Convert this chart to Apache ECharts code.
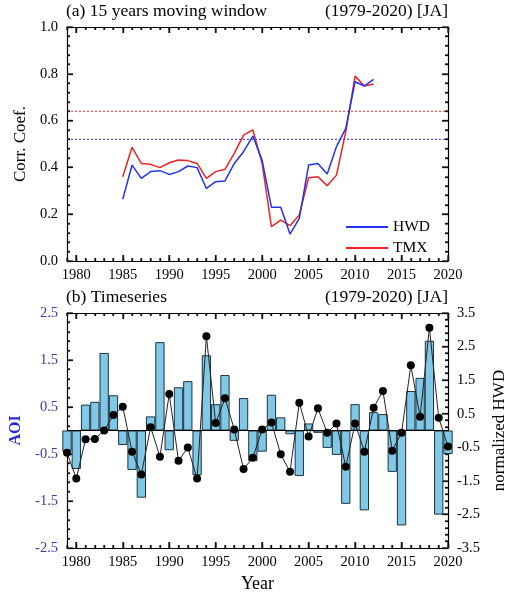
<!DOCTYPE html>
<html><head><meta charset="utf-8">
<script src="https://cdn.jsdelivr.net/npm/echarts@6/dist/echarts.min.js"></script>
<style>html,body{margin:0;padding:0;background:#fff}#c{width:509px;height:600px}</style>
</head><body><div id="c"></div>
<script>
// ---- data ----
const windowYears = [1985,1986,1987,1988,1989,1990,1991,1992,1993,1994,1995,1996,1997,1998,1999,2000,2001,2002,2003,2004,2005,2006,2007,2008,2009,2010,2011,2012];
const hwdCorr = [0.264,0.41,0.353,0.382,0.386,0.37,0.382,0.406,0.399,0.31,0.339,0.342,0.417,0.467,0.534,0.43,0.23,0.23,0.115,0.182,0.41,0.417,0.372,0.489,0.567,0.766,0.748,0.776];
const tmxCorr = [0.36,0.486,0.417,0.413,0.399,0.42,0.432,0.429,0.417,0.353,0.382,0.392,0.46,0.538,0.56,0.417,0.147,0.175,0.151,0.197,0.356,0.36,0.322,0.367,0.553,0.79,0.748,0.756];
const corrLevelTMX = 0.64;
const corrLevelHWD = 0.52;
const years = [1979,1980,1981,1982,1983,1984,1985,1986,1987,1988,1989,1990,1991,1992,1993,1994,1995,1996,1997,1998,1999,2000,2001,2002,2003,2004,2005,2006,2007,2008,2009,2010,2011,2012,2013,2014,2015,2016,2017,2018,2019,2020];
const aoi = [-0.45,-0.82,0.55,0.61,1.65,0.75,-0.31,-0.84,-1.43,0.30,1.88,-0.42,0.92,1.05,-0.95,1.60,0.56,1.18,-0.22,0.69,-0.65,-0.45,0.76,0.28,-0.08,-0.97,0.15,-0.05,-0.37,-0.52,-1.56,0.56,-1.70,0.39,0.35,-0.88,-2.02,0.84,1.12,1.91,-1.79,-0.5];
const hwdNorm = [-0.66,-1.43,-0.26,-0.25,0.0,0.46,0.71,-0.63,-1.31,0.10,-0.78,1.09,-0.90,-0.51,-1.43,2.81,0.22,0.96,0.03,-1.15,-0.81,0.03,0.24,-0.71,-1.23,0.83,-0.18,0.66,-0.07,0.21,-1.08,0.21,-0.63,0.68,1.18,-0.60,-0.07,1.94,0.41,3.06,0.38,-0.48];
const yearTicks = [1980,1985,1990,1995,2000,2005,2010,2015,2020];
const corrTicks = [0.0,0.2,0.4,0.6,0.8,1.0];
const aoiTicks = [-2.5,-1.5,-0.5,0.5,1.5,2.5];
const normTicks = [-3.5,-2.5,-1.5,-0.5,0.5,1.5,2.5,3.5];

// ---- chart ----
const FONT = "'Liberation Serif','DejaVu Serif',serif";
const chart = echarts.init(document.getElementById('c'));
const G = [{left:67, top:27, width:381, height:234},{left:67, top:313, width:381, height:235}];
const TICK = {color:'#111', width:1.3};

function xAx(g, pos, label, extra) {
  return Object.assign({
    type:'value', gridIndex:g, position:pos, min:1979, max:2020,
    axisLine:{show:true, onZero:false, lineStyle:{color:'#000', width:1.2}},
    axisTick:{show:true, inside:true, length:6, customValues:yearTicks, lineStyle:TICK},
    axisLabel:{show:label, customValues:yearTicks, color:'#000', fontFamily:FONT, fontSize:14.5, margin:7, formatter:v=>String(v)},
    splitLine:{show:false}
  }, extra||{});
}
function xMinorAx(g, pos) {
  return {type:'value', gridIndex:g, position:pos, min:1979, max:2020, interval:1,
    axisLine:{show:false, onZero:false}, axisTick:{show:true, inside:true, length:3, lineStyle:TICK},
    axisLabel:{show:false}, splitLine:{show:false}};
}
function yAx(g, pos, min, max, label, extra) {
  return Object.assign({
    type:'value', gridIndex:g, position:pos, min:min, max:max, interval: g===0?0.2:1,
    axisLine:{show:true, onZero:false, lineStyle:{color:'#000', width:1.2}},
    axisTick:{show:true, inside:true, length:6, lineStyle:TICK},
    minorTick:{show:true, splitNumber:5, length:3, lineStyle:TICK},
    axisLabel:{show:label, color:'#000', fontFamily:FONT, fontSize:14.5, margin:9, formatter:v=>v.toFixed(1)},
    splitLine:{show:false}
  }, extra||{});
}
function withMinor(major, parts) {
  const out = [];
  for (let i = 0; i < major.length; i++) {
    out.push({v:major[i], major:true});
    if (i < major.length - 1) {
      const step = (major[i+1] - major[i]) / parts;
      for (let k = 1; k < parts; k++) out.push({v:+(major[i] + step*k).toFixed(6), major:false});
    }
  }
  return out;
}
function xTickRects(xi, yi, side) {
  return {type:'custom', xAxisIndex:xi, yAxisIndex:yi, silent:true,
    data: years.map(y=>[y, yearTicks.includes(y) ? 1 : 0]),
    renderItem:(params, api)=>{
      const cs = params.coordSys;
      const x = Math.round(api.coord([api.value(0), 0])[0]);
      const L = api.value(1) ? 6 : 3;
      const y0 = side === 'b' ? cs.y + cs.height - L : cs.y;
      return {type:'rect', shape:{x:x-0.6, y:y0, width:1.2, height:L}, style:{fill:'#111'}};
    }};
}
function yTickRects(xi, yi, ticks, side) {
  const t = withMinor(ticks, 5);
  return {type:'custom', xAxisIndex:xi, yAxisIndex:yi, silent:true,
    data: t.map(o=>[1979, o.v, o.major?1:0]),
    renderItem:(params, api)=>{
      const cs = params.coordSys;
      const y = Math.round(api.coord([1979, api.value(1)])[1]);
      const L = api.value(2) ? 6 : 3;
      const x0 = side === 'l' ? cs.x : cs.x + cs.width - L;
      return {type:'rect', shape:{x:x0, y:y-0.6, width:L, height:1.2}, style:{fill:'#111'}};
    }};
}

const barW = G[1].width / (2020 - 1979);
const TT = {fontFamily:FONT, fontSize:17.5, fontWeight:'normal', color:'#000'};

const option = {
  animation:false,
  grid:G.map(g=>Object.assign({outerBoundsMode:'none'}, g)),
  title:[
    {text:'(a) 15 years moving window', left:66, top:2, padding:0, textStyle:TT},
    {text:'(1979-2020) [JA]', right:61, top:2, padding:0, textStyle:TT},
    {text:'(b) Timeseries', left:66, top:288, padding:0, textStyle:TT},
    {text:'(1979-2020) [JA]', right:61, top:288, padding:0, textStyle:TT}
  ],
  legend:{
    data:['HWD','TMX'], orient:'vertical', left:346, top:219, itemWidth:42, itemHeight:2, itemGap:5, icon:'rect', padding:0,
    textStyle:{fontFamily:FONT, fontSize:15.5, color:'#000'}
  },
  xAxis:[
    xAx(0,'bottom',true),
    xAx(0,'top',false),
    xAx(1,'bottom',true,{name:'Year', nameLocation:'middle', nameGap:27, nameTextStyle:{fontFamily:FONT, fontSize:18, color:'#000'}}),
    xAx(1,'top',false),
    xMinorAx(0,'bottom'), xMinorAx(0,'top'), xMinorAx(1,'bottom'), xMinorAx(1,'top')
  ],
  yAxis:[
    yAx(0,'left',0,1,true,{name:'Corr. Coef.', nameLocation:'middle', nameRotate:90, nameGap:38, nameTextStyle:{fontFamily:FONT, fontSize:17, color:'#000'}}),
    yAx(0,'right',0,1,false),
    yAx(1,'left',-2.5,2.5,true,{name:'AOI', nameLocation:'middle', nameRotate:90, nameGap:42, nameTextStyle:{fontFamily:FONT, fontSize:16, fontWeight:'bold', color:'#2a2ad0'}}),
    yAx(1,'right',-3.5,3.5,true,{name:'normalized HWD', nameLocation:'middle', nameRotate:90, nameGap:38, nameTextStyle:{fontFamily:FONT, fontSize:17, color:'#000'}})
  ],
  series:[
    {name:'TMXlevel', type:'line', xAxisIndex:0, yAxisIndex:0, data:[[1979,corrLevelTMX],[2020,corrLevelTMX]], symbol:'none', silent:true,
     lineStyle:{type:[2,2], color:'#ff2020', width:1}, z:1},
    {name:'HWDlevel', type:'line', xAxisIndex:0, yAxisIndex:0, data:[[1979,corrLevelHWD],[2020,corrLevelHWD]], symbol:'none', silent:true,
     lineStyle:{type:[2,2], color:'#2020ff', width:1}, z:1},
    {name:'HWD', type:'line', xAxisIndex:0, yAxisIndex:0, data:windowYears.map((y,i)=>[y,hwdCorr[i]]),
     symbol:'none', color:'#2233ee', lineStyle:{width:1.5, color:'#2233ee'}, z:3},
    {name:'TMX', type:'line', xAxisIndex:0, yAxisIndex:0, data:windowYears.map((y,i)=>[y,tmxCorr[i]]),
     symbol:'none', color:'#ee2222', lineStyle:{width:1.5, color:'#ee2222'}, z:2},
    {name:'AOI', type:'bar', xAxisIndex:2, yAxisIndex:2, data:years.map((y,i)=>[y,aoi[i]]),
     barWidth:barW, itemStyle:{color:'#80c8e6', borderColor:'#1c3440', borderWidth:1}, z:2,
     markLine:{silent:true, symbol:['none','none'], label:{show:false}, data:[{yAxis:0}], lineStyle:{type:'solid', color:'#000', width:1.2}, z:3}},
    {name:'HWDn', type:'line', xAxisIndex:2, yAxisIndex:3, data:years.map((y,i)=>[y,hwdNorm[i]]),
     symbol:'circle', symbolSize:8, color:'#000', lineStyle:{width:1, color:'#222'}, itemStyle:{color:'#000'}, z:5},
    xTickRects(0,0,'b'), xTickRects(0,0,'t'),
    yTickRects(0,0,corrTicks,'l'), yTickRects(0,0,corrTicks,'r'),
    xTickRects(2,2,'b'), xTickRects(2,2,'t'),
    yTickRects(2,2,aoiTicks,'l'), yTickRects(2,3,normTicks,'r')
  ]
};
option.yAxis[2].axisLabel.color = '#3c3ca8';
chart.setOption(option);
</script></body></html>
